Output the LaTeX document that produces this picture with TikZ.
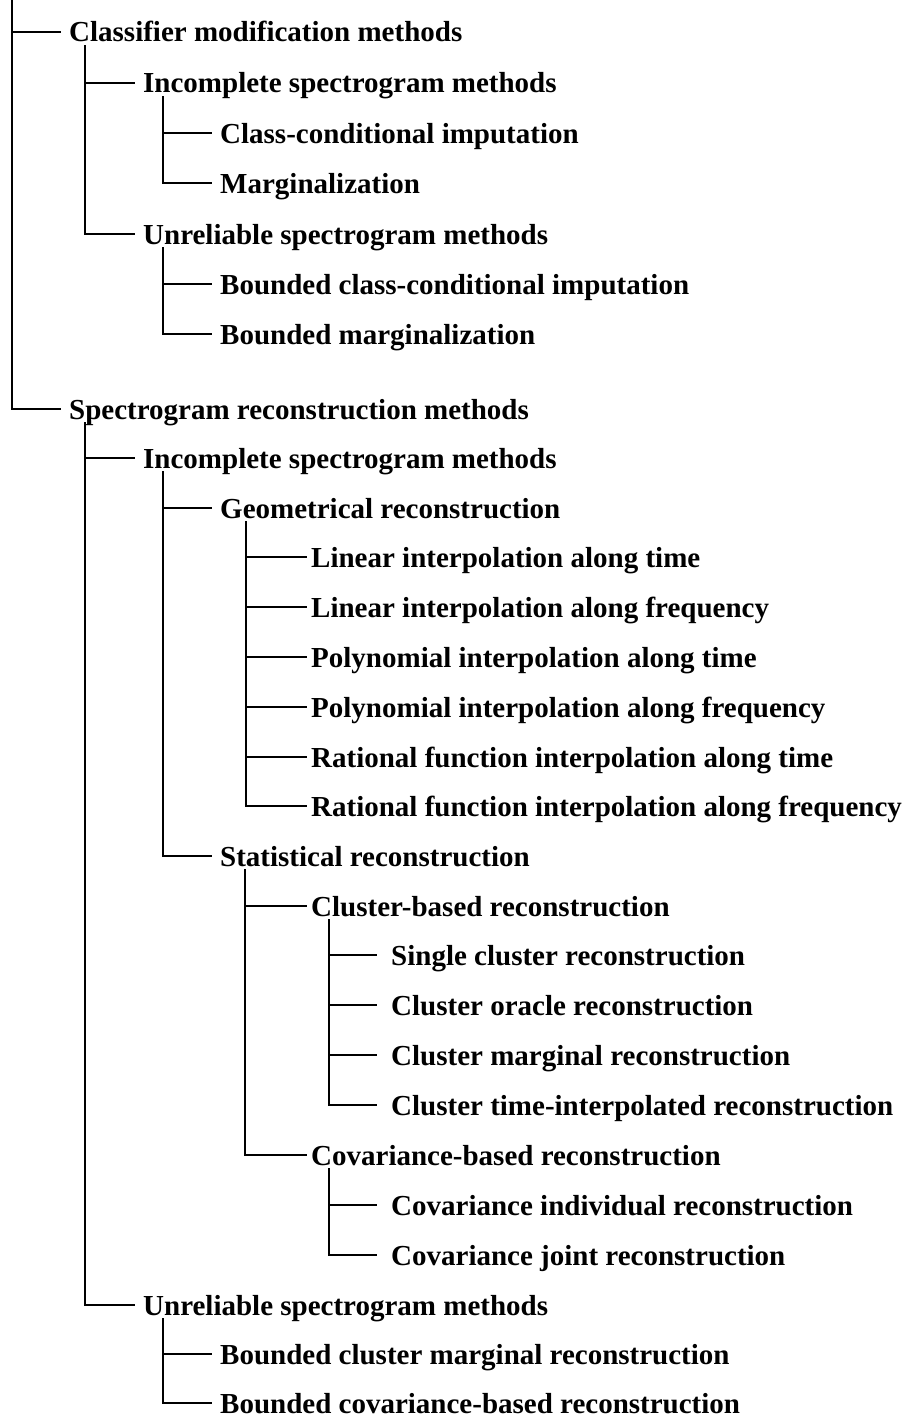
\documentclass[tikz,border=0pt]{standalone}
\usepackage{fontspec}
\setmainfont{Liberation Serif}
\usetikzlibrary{positioning, calc}

\begin{document}
\begin{tikzpicture}[
    x=1pt, y=-1pt,
    item/.style={
        anchor=west, inner xsep=8pt, inner ysep=0pt,
        text height=23pt, text depth=3pt,
        font=\fontsize{29}{34}\selectfont\bfseries
    },
    deep/.style={item, inner xsep=4pt},
    leaf/.style={item, inner xsep=14pt},
    branch/.style={draw=black, line width=2pt}
]
\useasboundingbox (0,0) rectangle (912,1418);

% root (cut off at the top)
\coordinate (root) at (12,0);

% Classifier modification
\node[item] (cm) at (61,32) {Classifier modification methods};
\node[item] (cmInc) at (135,83) {Incomplete spectrogram methods};
\node[item] (ccImp) at (212,133) {Class-conditional imputation};
\node[item] (marg) at (212,183) {Marginalization};
\node[item] (cmUnr) at (135,234) {Unreliable spectrogram methods};
\node[item] (bccImp) at (212,284) {Bounded class-conditional imputation};
\node[item] (bMarg) at (212,334) {Bounded marginalization};

% Spectrogram reconstruction
\node[item] (sr) at (61,409) {Spectrogram reconstruction methods};
\node[item] (srInc) at (135,458) {Incomplete spectrogram methods};
\node[item] (geo) at (212,508) {Geometrical reconstruction};
\node[deep] (linT) at (307,557) {Linear interpolation along time};
\node[deep] (linF) at (307,607) {Linear interpolation along frequency};
\node[deep] (polT) at (307,657) {Polynomial interpolation along time};
\node[deep] (polF) at (307,707) {Polynomial interpolation along frequency};
\node[deep] (ratT) at (307,757) {Rational function interpolation along time};
\node[deep] (ratF) at (307,806) {Rational function interpolation along frequency};
\node[item] (stat) at (212,856) {Statistical reconstruction};
\node[deep] (clu) at (307,906) {Cluster-based reconstruction};
\node[leaf] (cluSgl) at (377,955) {Single cluster reconstruction};
\node[leaf] (cluOrc) at (377,1005) {Cluster oracle reconstruction};
\node[leaf] (cluMrg) at (377,1055) {Cluster marginal reconstruction};
\node[leaf] (cluTim) at (377,1105) {Cluster time-interpolated reconstruction};
\node[deep] (cov) at (307,1155) {Covariance-based reconstruction};
\node[leaf] (covInd) at (377,1205) {Covariance individual reconstruction};
\node[leaf] (covJnt) at (377,1255) {Covariance joint reconstruction};
\node[item] (srUnr) at (135,1305) {Unreliable spectrogram methods};
\node[item] (bCluMrg) at (212,1354) {Bounded cluster marginal reconstruction};
\node[item] (bCov) at (212,1403) {Bounded covariance-based reconstruction};

% tops of the vertical lines
\coordinate (cm-v) at ([xshift=24pt]cm.south west);
\coordinate (cmInc-v) at ([xshift=28pt]cmInc.south west);
\coordinate (cmUnr-v) at ([xshift=28pt]cmUnr.south west);
\coordinate (sr-v) at ([xshift=24pt]sr.south west);
\coordinate (srInc-v) at ([xshift=28pt]srInc.south west);
\coordinate (geo-v) at ([xshift=34pt]geo.south west);
\coordinate (stat-v) at ([xshift=33pt]stat.south west);
\coordinate (clu-v) at ([xshift=22pt]clu.south west);
\coordinate (cov-v) at ([xshift=22pt]cov.south west);
\coordinate (srUnr-v) at ([xshift=28pt]srUnr.south west);

% connectors
\foreach \c in {cm, sr} \draw[branch] (root) |- (\c.west);
\foreach \c in {cmInc, cmUnr} \draw[branch] (cm-v) |- (\c.west);
\foreach \c in {ccImp, marg} \draw[branch] (cmInc-v) |- (\c.west);
\foreach \c in {bccImp, bMarg} \draw[branch] (cmUnr-v) |- (\c.west);
\foreach \c in {srInc, srUnr} \draw[branch] (sr-v) |- (\c.west);
\foreach \c in {geo, stat} \draw[branch] (srInc-v) |- (\c.west);
\foreach \c in {linT, linF, polT, polF, ratT, ratF} \draw[branch] (geo-v) |- (\c.west);
\foreach \c in {clu, cov} \draw[branch] (stat-v) |- (\c.west);
\foreach \c in {cluSgl, cluOrc, cluMrg, cluTim} \draw[branch] (clu-v) |- (\c.west);
\foreach \c in {covInd, covJnt} \draw[branch] (cov-v) |- (\c.west);
\foreach \c in {bCluMrg, bCov} \draw[branch] (srUnr-v) |- (\c.west);

\end{tikzpicture}
\end{document}
